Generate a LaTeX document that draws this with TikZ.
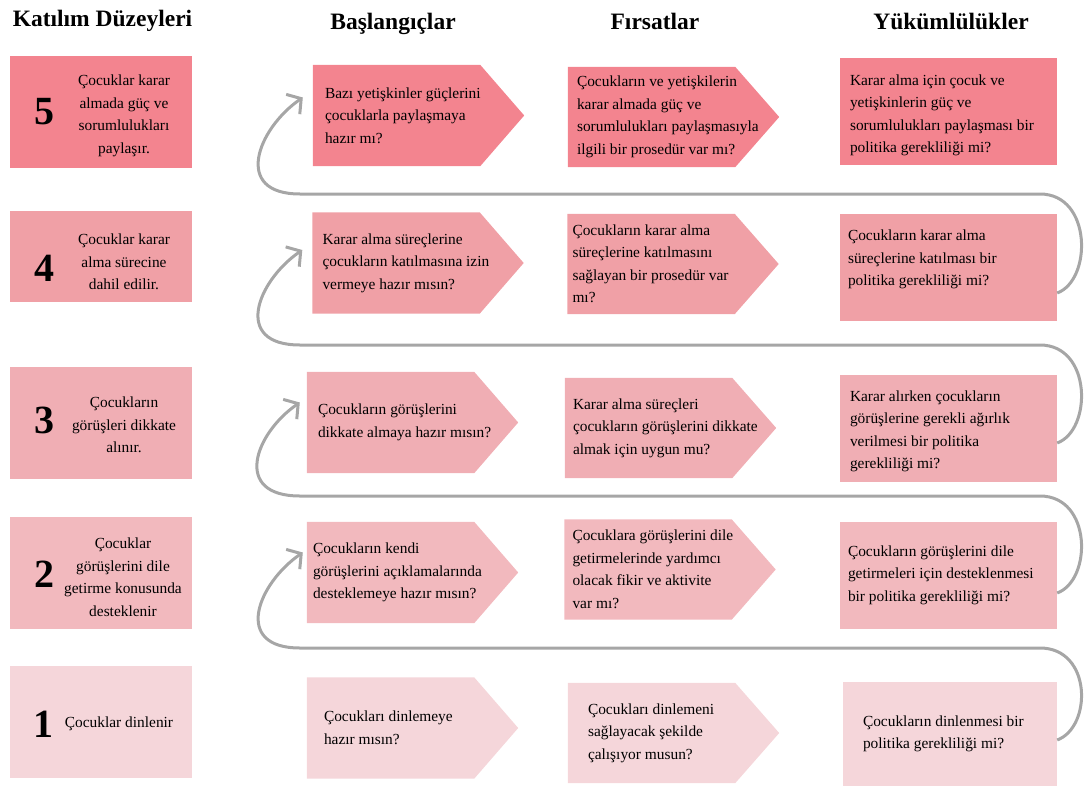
\documentclass[tikz,border=0pt]{standalone}
\usepackage{fontspec}
\setmainfont{Liberation Serif}
\usetikzlibrary{arrows.meta}
\definecolor{lvfive}{RGB}{243,132,143}
\definecolor{lvfour}{RGB}{240,160,166}
\definecolor{lvthree}{RGB}{240,174,180}
\definecolor{lvtwo}{RGB}{242,185,190}
\definecolor{lvone}{RGB}{245,214,218}
\definecolor{loopgray}{RGB}{166,166,166}
% filled pointer box drawn round an empty node
\newcommand{\pointbox}[2]{\fill[#2] (#1.north west) -- (#1.north east) -- ([xshift=44pt]#1.east) -- (#1.south east) -- (#1.south west) -- cycle;}

\begin{document}
\begin{tikzpicture}[x=1pt,y=-1pt,
      every node/.style={inner sep=0pt},
      colhead/.style={font=\fontsize{23.5}{28}\selectfont\bfseries,anchor=base},
      lvbox/.style={minimum width=182pt,minimum height=112pt},
      lvnum/.style={font=\fontsize{40}{40}\selectfont\bfseries},
      lvtext/.style={font=\fontsize{15.4}{22.5}\selectfont,align=center},
      qtext/.style={font=\fontsize{15.4}{22.5}\selectfont,align=left,anchor=west},
      askbox/.style={minimum width=167pt,minimum height=101pt},
      chancebox/.style={minimum width=167pt,minimum height=100pt},
      dutybox/.style={minimum width=217pt,minimum height=107pt},
      backline/.style={draw=loopgray,line width=3pt,-{Straight Barb[length=10pt,width=24pt]}}]
    \useasboundingbox (0,0) rectangle (1091,787);

    % headers
    \node[colhead] (hlevel) at (102.5,26) {Katılım Düzeyleri};
    \node[colhead] (hstart) at (393,29) {Başlangıçlar};
    \node[colhead] (hchance) at (655,29) {Fırsatlar};
    \node[colhead] (hduty) at (951,29) {Yükümlülükler};

    % levels
    \node[lvbox,fill=lvfive] (lv5) at (101,112) {};
    \node[lvnum] (n5) at (44,112) {5};
    \node[lvtext] (t5) at (124,116) {Çocuklar karar\\almada güç ve\\sorumlulukları\\paylaşır.};
    \node[lvbox,fill=lvfour,minimum height=91pt] (lv4) at (101,256.5) {};
    \node[lvnum] (n4) at (44,268) {4};
    \node[lvtext] (t4) at (124,262) {Çocuklar karar\\alma sürecine\\dahil edilir.};
    \node[lvbox,fill=lvthree] (lv3) at (101,423) {};
    \node[lvnum] (n3) at (44,420) {3};
    \node[lvtext] (t3) at (124,425) {Çocukların\\görüşleri dikkate\\alınır.};
    \node[lvbox,fill=lvtwo] (lv2) at (101,573) {};
    \node[lvnum] (n2) at (44,574) {2};
    \node[lvtext] (t2) at (123,577) {Çocuklar\\görüşlerini dile\\getirme konusunda\\desteklenir};
    \node[lvbox,fill=lvone] (lv1) at (101,722) {};
    \node[lvnum] (n1) at (43,724) {1};
    \node[lvtext] (t1) at (119,724) {Çocuklar dinlenir};

    % Baslangiclar
    \node[askbox] (b5) at (396.5,115.5) {};
    \pointbox{b5}{lvfive}
    \node[qtext] (b5t) at ([xshift=12pt]b5.west) {Bazı yetişkinler güçlerini\\çocuklarla paylaşmaya\\hazır mı?};
    \node[askbox] (b4) at (396,263) {};
    \pointbox{b4}{lvfour}
    \node[qtext] (b4t) at ([xshift=10pt]b4.west) {Karar alma süreçlerine\\çocukların katılmasına izin\\vermeye hazır mısın?};
    \node[askbox] (b3) at (390.5,422.5) {};
    \pointbox{b3}{lvthree}
    \node[qtext] (b3t) at ([xshift=11pt]b3.west) {Çocukların görüşlerini\\dikkate almaya hazır mısın?};
    \node[askbox] (b2) at (390.5,572.5) {};
    \pointbox{b2}{lvtwo}
    \node[qtext] (b2t) at ([xshift=6pt]b2.west) {Çocukların kendi\\görüşlerini açıklamalarında\\desteklemeye hazır mısın?};
    \node[askbox] (b1) at (390.5,728) {};
    \pointbox{b1}{lvone}
    \node[qtext] (b1t) at ([xshift=17pt]b1.west) {Çocukları dinlemeye\\hazır mısın?};

    % Firsatlar
    \node[chancebox] (f5) at (651.5,117) {};
    \pointbox{f5}{lvfive}
    \node[qtext] (f5t) at ([xshift=9pt]f5.west) {Çocukların ve yetişkilerin\\karar almada güç ve\\sorumlulukları paylaşmasıyla\\ilgili bir prosedür var mı?};
    \node[chancebox] (f4) at (651,264) {};
    \pointbox{f4}{lvfour}
    \node[qtext] (f4t) at ([xshift=5pt]f4.west) {Çocukların karar alma\\süreçlerine katılmasını\\sağlayan bir prosedür var\\mı?};
    \node[chancebox] (f3) at (648.5,428) {};
    \pointbox{f3}{lvthree}
    \node[qtext] (f3t) at ([xshift=8pt]f3.west) {Karar alma süreçleri\\çocukların görüşlerini dikkate\\almak için uygun mu?};
    \node[chancebox] (f2) at (648,569.5) {};
    \pointbox{f2}{lvtwo}
    \node[qtext] (f2t) at ([xshift=8pt]f2.west) {Çocuklara görüşlerini dile\\getirmelerinde yardımcı\\olacak fikir ve aktivite\\var mı?};
    \node[chancebox] (f1) at (651.5,733) {};
    \pointbox{f1}{lvone}
    \node[qtext] (f1t) at ([xshift=20pt]f1.west) {Çocukları dinlemeni\\sağlayacak şekilde\\çalışıyor musun?};

    % Yukumlulukler
    \node[dutybox,fill=lvfive] (ykm5) at (948.5,111.5) {};
    \node[qtext] (ykm5t) at ([xshift=10pt,yshift=-4pt]ykm5.west) {Karar alma için çocuk ve\\yetişkinlerin güç ve\\sorumlulukları paylaşması bir\\politika gerekliliği mi?};
    \node[dutybox,fill=lvfour] (ykm4) at (948.5,267.5) {};
    \node[qtext] (ykm4t) at ([xshift=8pt,yshift=8pt]ykm4.west) {Çocukların karar alma\\süreçlerine katılması bir\\politika gerekliliği mi?};
    \node[dutybox,fill=lvthree] (ykm3) at (948.5,428.5) {};
    \node[qtext] (ykm3t) at ([xshift=10pt,yshift=-3pt]ykm3.west) {Karar alırken çocukların\\görüşlerine gerekli ağırlık\\verilmesi bir politika\\gerekliliği mi?};
    \node[dutybox,fill=lvtwo] (ykm2) at (948.5,575) {};
    \node[qtext] (ykm2t) at ([xshift=8pt]ykm2.west) {Çocukların görüşlerini dile\\getirmeleri için desteklenmesi\\bir politika gerekliliği mi?};
    \node[dutybox,fill=lvone,minimum width=214pt,minimum height=104pt] (ykm1) at (950,734) {};
    \node[qtext] (ykm1t) at ([xshift=20pt]ykm1.west) {Çocukların dinlenmesi bir\\politika gerekliliği mi?};

    % loops from one level to the next
    \draw[backline] ([yshift=-6pt]ykm1.east) .. controls +(35,-13) and +(52,0) .. (1040,648)
      -- (300,648) .. controls +(-68,0) and +(-45,31) .. ([xshift=-4pt,yshift=20pt]b2.west);
    \draw[backline] ([yshift=-18pt]ykm2.east) .. controls +(35,-13) and +(52,0) .. (1040,496)
      -- (300,496) .. controls +(-68,0) and +(-45,31) .. ([xshift=-7pt,yshift=20pt]b3.west);
    \draw[backline] ([yshift=-14.5pt]ykm3.east) .. controls +(35,-13) and +(52,0) .. (1040,345)
      -- (300,345) .. controls +(-68,0) and +(-45,31) .. ([xshift=-10pt,yshift=13pt]b4.west);
    \draw[backline] ([yshift=-25.5pt]ykm4.east) .. controls +(35,-13) and +(52,0) .. (1040,194)
      -- (300,194) .. controls +(-68,0) and +(-45,31) .. ([xshift=-10pt,yshift=18pt]b5.west);
  \end{tikzpicture}
\end{document}
